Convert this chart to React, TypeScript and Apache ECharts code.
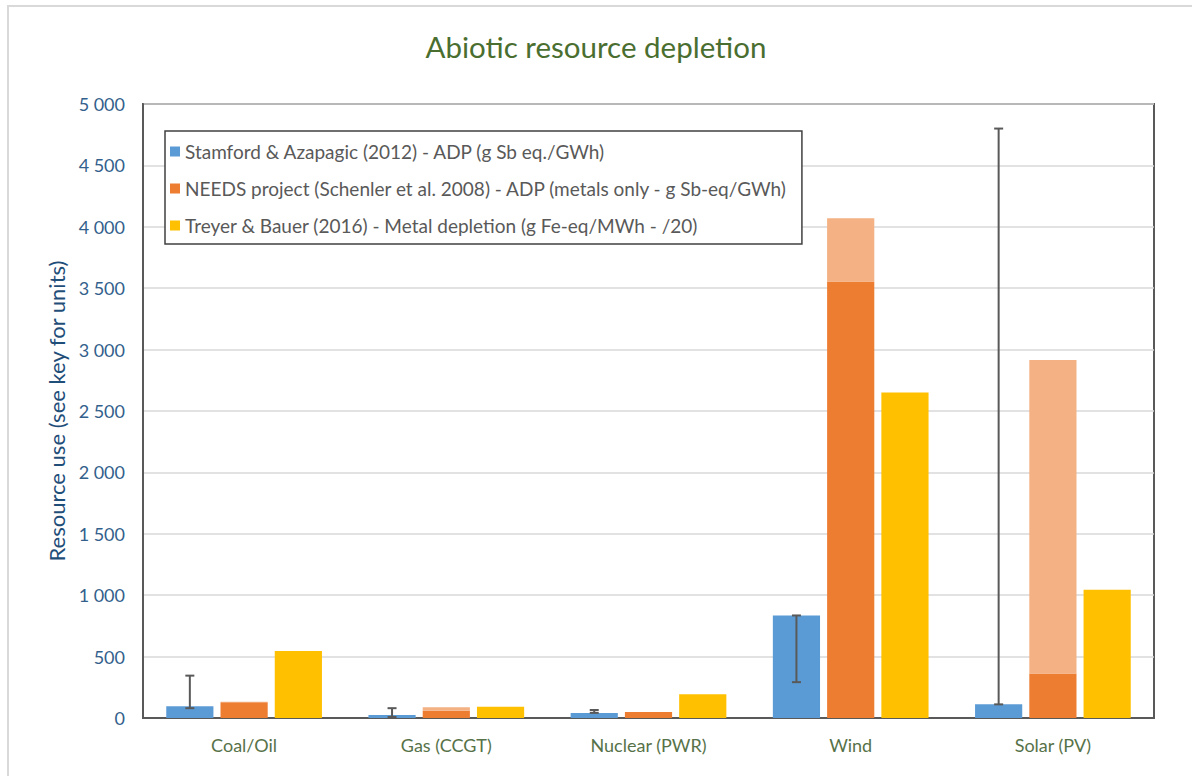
import React, { useEffect, useRef } from "react";
import * as echarts from "echarts";

const categories = ["Coal/Oil", "Gas (CCGT)", "Nuclear (PWR)", "Wind", "Solar (PV)"];
const stamford = [95, 25, 40, 835, 111];
const needsBase = [128, 60, 49, 3555, 362];
const needsUpper = [5, 27, 0, 515, 2553];
const treyer = [546, 92, 193, 2650, 1045];
const errLow = [80, 8, 42, 292, 111];
const errHigh = [345, 80, 65, 835, 4800];
const yTicks = [0, 500, 1000, 1500, 2000, 2500, 3000, 3500, 4000, 4500, 5000];

const seriesNames = [
  "Stamford & Azapagic (2012) - ADP (g Sb eq./GWh)",
  "NEEDS project (Schenler et al. 2008) - ADP (metals only - g Sb-eq/GWh)",
  "Treyer & Bauer (2016) - Metal depletion (g Fe-eq/MWh - /20)",
];

const FONT = "Lato, 'Open Sans', sans-serif";
const CAT_GAP = 0.23;
const BAR_GAP = 0.15;

export default function App() {
  const ref = useRef<HTMLDivElement>(null);
  useEffect(() => {
    if (!ref.current) return;
    const chart = echarts.init(ref.current, null, { renderer: "svg" });
    const errData = categories.map((_, i) => [i, errLow[i], errHigh[i]]);
    chart.setOption({
      animation: false,
      backgroundColor: "#ffffff",
      textStyle: { fontFamily: FONT },
      title: {
        text: "Abiotic resource depletion",
        left: "center",
        top: 26,
        textStyle: { fontFamily: FONT, fontSize: 29.5, fontWeight: "normal", color: "#4A6E2F" },
      },
      graphic: [
        {
          type: "rect",
          shape: { x: 8, y: 6, width: 1400, height: 1000 },
          style: { fill: "none", stroke: "#d9d9d9", lineWidth: 2 },
          silent: true,
          z: -10,
        },
      ],
      legend: {
        data: seriesNames,
        orient: "vertical",
        left: 165,
        top: 131,
        padding: [11, 14, 9, 5],
        itemGap: 18,
        itemWidth: 10,
        itemHeight: 10,
        icon: "rect",
        backgroundColor: "#ffffff",
        borderColor: "#404040",
        borderWidth: 1.5,
        textStyle: { fontFamily: FONT, fontSize: 19, color: "#595959" },
        selectedMode: false,
      },
      grid: {
        left: 143,
        right: 38,
        top: 104,
        bottom: 58,
        show: true,
        borderColor: "#595959",
        borderWidth: 2,
        backgroundColor: "transparent",
      },
      xAxis: {
        type: "category",
        data: categories,
        axisTick: { show: false },
        axisLine: { lineStyle: { color: "#595959", width: 2 } },
        axisLabel: { color: "#577249", fontSize: 18, fontFamily: FONT, margin: 18 },
      },
      yAxis: {
        type: "value",
        min: yTicks[0],
        max: yTicks[yTicks.length - 1],
        interval: 500,
        name: "Resource use (see key for units)",
        nameLocation: "middle",
        nameGap: 74,
        nameTextStyle: { color: "#1F4E79", fontSize: 22, fontFamily: FONT },
        axisLine: { show: true, lineStyle: { color: "#595959", width: 2 } },
        axisTick: { show: false },
        splitLine: { lineStyle: { color: "#d9d9d9", width: 1.5 } },
        axisLabel: {
          color: "#335F8C",
          fontSize: 18,
          fontFamily: FONT,
          margin: 18,
          formatter: (v: number) => String(v).replace(/\B(?=(\d{3})+(?!\d))/g, " "),
        },
      },
      series: [
        {
          name: seriesNames[0],
          type: "bar",
          data: stamford,
          itemStyle: { color: "#5B9BD5" },
          barCategoryGap: `${CAT_GAP * 100}%`,
          barGap: `${BAR_GAP * 100}%`,
        },
        {
          name: seriesNames[1],
          type: "bar",
          stack: "needs",
          data: needsBase,
          itemStyle: { color: "#ED7D31" },
          barCategoryGap: `${CAT_GAP * 100}%`,
          barGap: `${BAR_GAP * 100}%`,
        },
        {
          name: "NEEDS upper range",
          type: "bar",
          stack: "needs",
          data: needsUpper,
          itemStyle: { color: "#F4B183" },
          barCategoryGap: `${CAT_GAP * 100}%`,
          barGap: `${BAR_GAP * 100}%`,
        },
        {
          name: seriesNames[2],
          type: "bar",
          data: treyer,
          itemStyle: { color: "#FFC000" },
          barCategoryGap: `${CAT_GAP * 100}%`,
          barGap: `${BAR_GAP * 100}%`,
        },
        {
          name: "Error",
          type: "custom",
          data: errData,
          encode: { x: 0, y: [1, 2] },
          z: 10,
          renderItem: (params: any, api: any) => {
            const xi = api.value(0);
            const lo = api.coord([xi, api.value(1)]);
            const hi = api.coord([xi, api.value(2)]);
            const band = api.size([1, 0])[0];
            const bw = (band * (1 - CAT_GAP)) / (3 + 2 * BAR_GAP);
            const x = lo[0] - bw * (1 + BAR_GAP);
            const hw = 4.5;
            const style = { stroke: "#595959", lineWidth: 2, fill: "none" };
            return {
              type: "group",
              children: [
                { type: "line", shape: { x1: x, y1: lo[1], x2: x, y2: hi[1] }, style },
                { type: "line", shape: { x1: x - hw, y1: lo[1], x2: x + hw, y2: lo[1] }, style },
                { type: "line", shape: { x1: x - hw, y1: hi[1], x2: x + hw, y2: hi[1] }, style },
              ],
            };
          },
        },
      ],
    });
    return () => chart.dispose();
  }, []);
  return (
    <div
      ref={ref}
      style={{ position: "fixed", left: 0, top: 0, width: 1192, height: 776 }}
    />
  );
}
